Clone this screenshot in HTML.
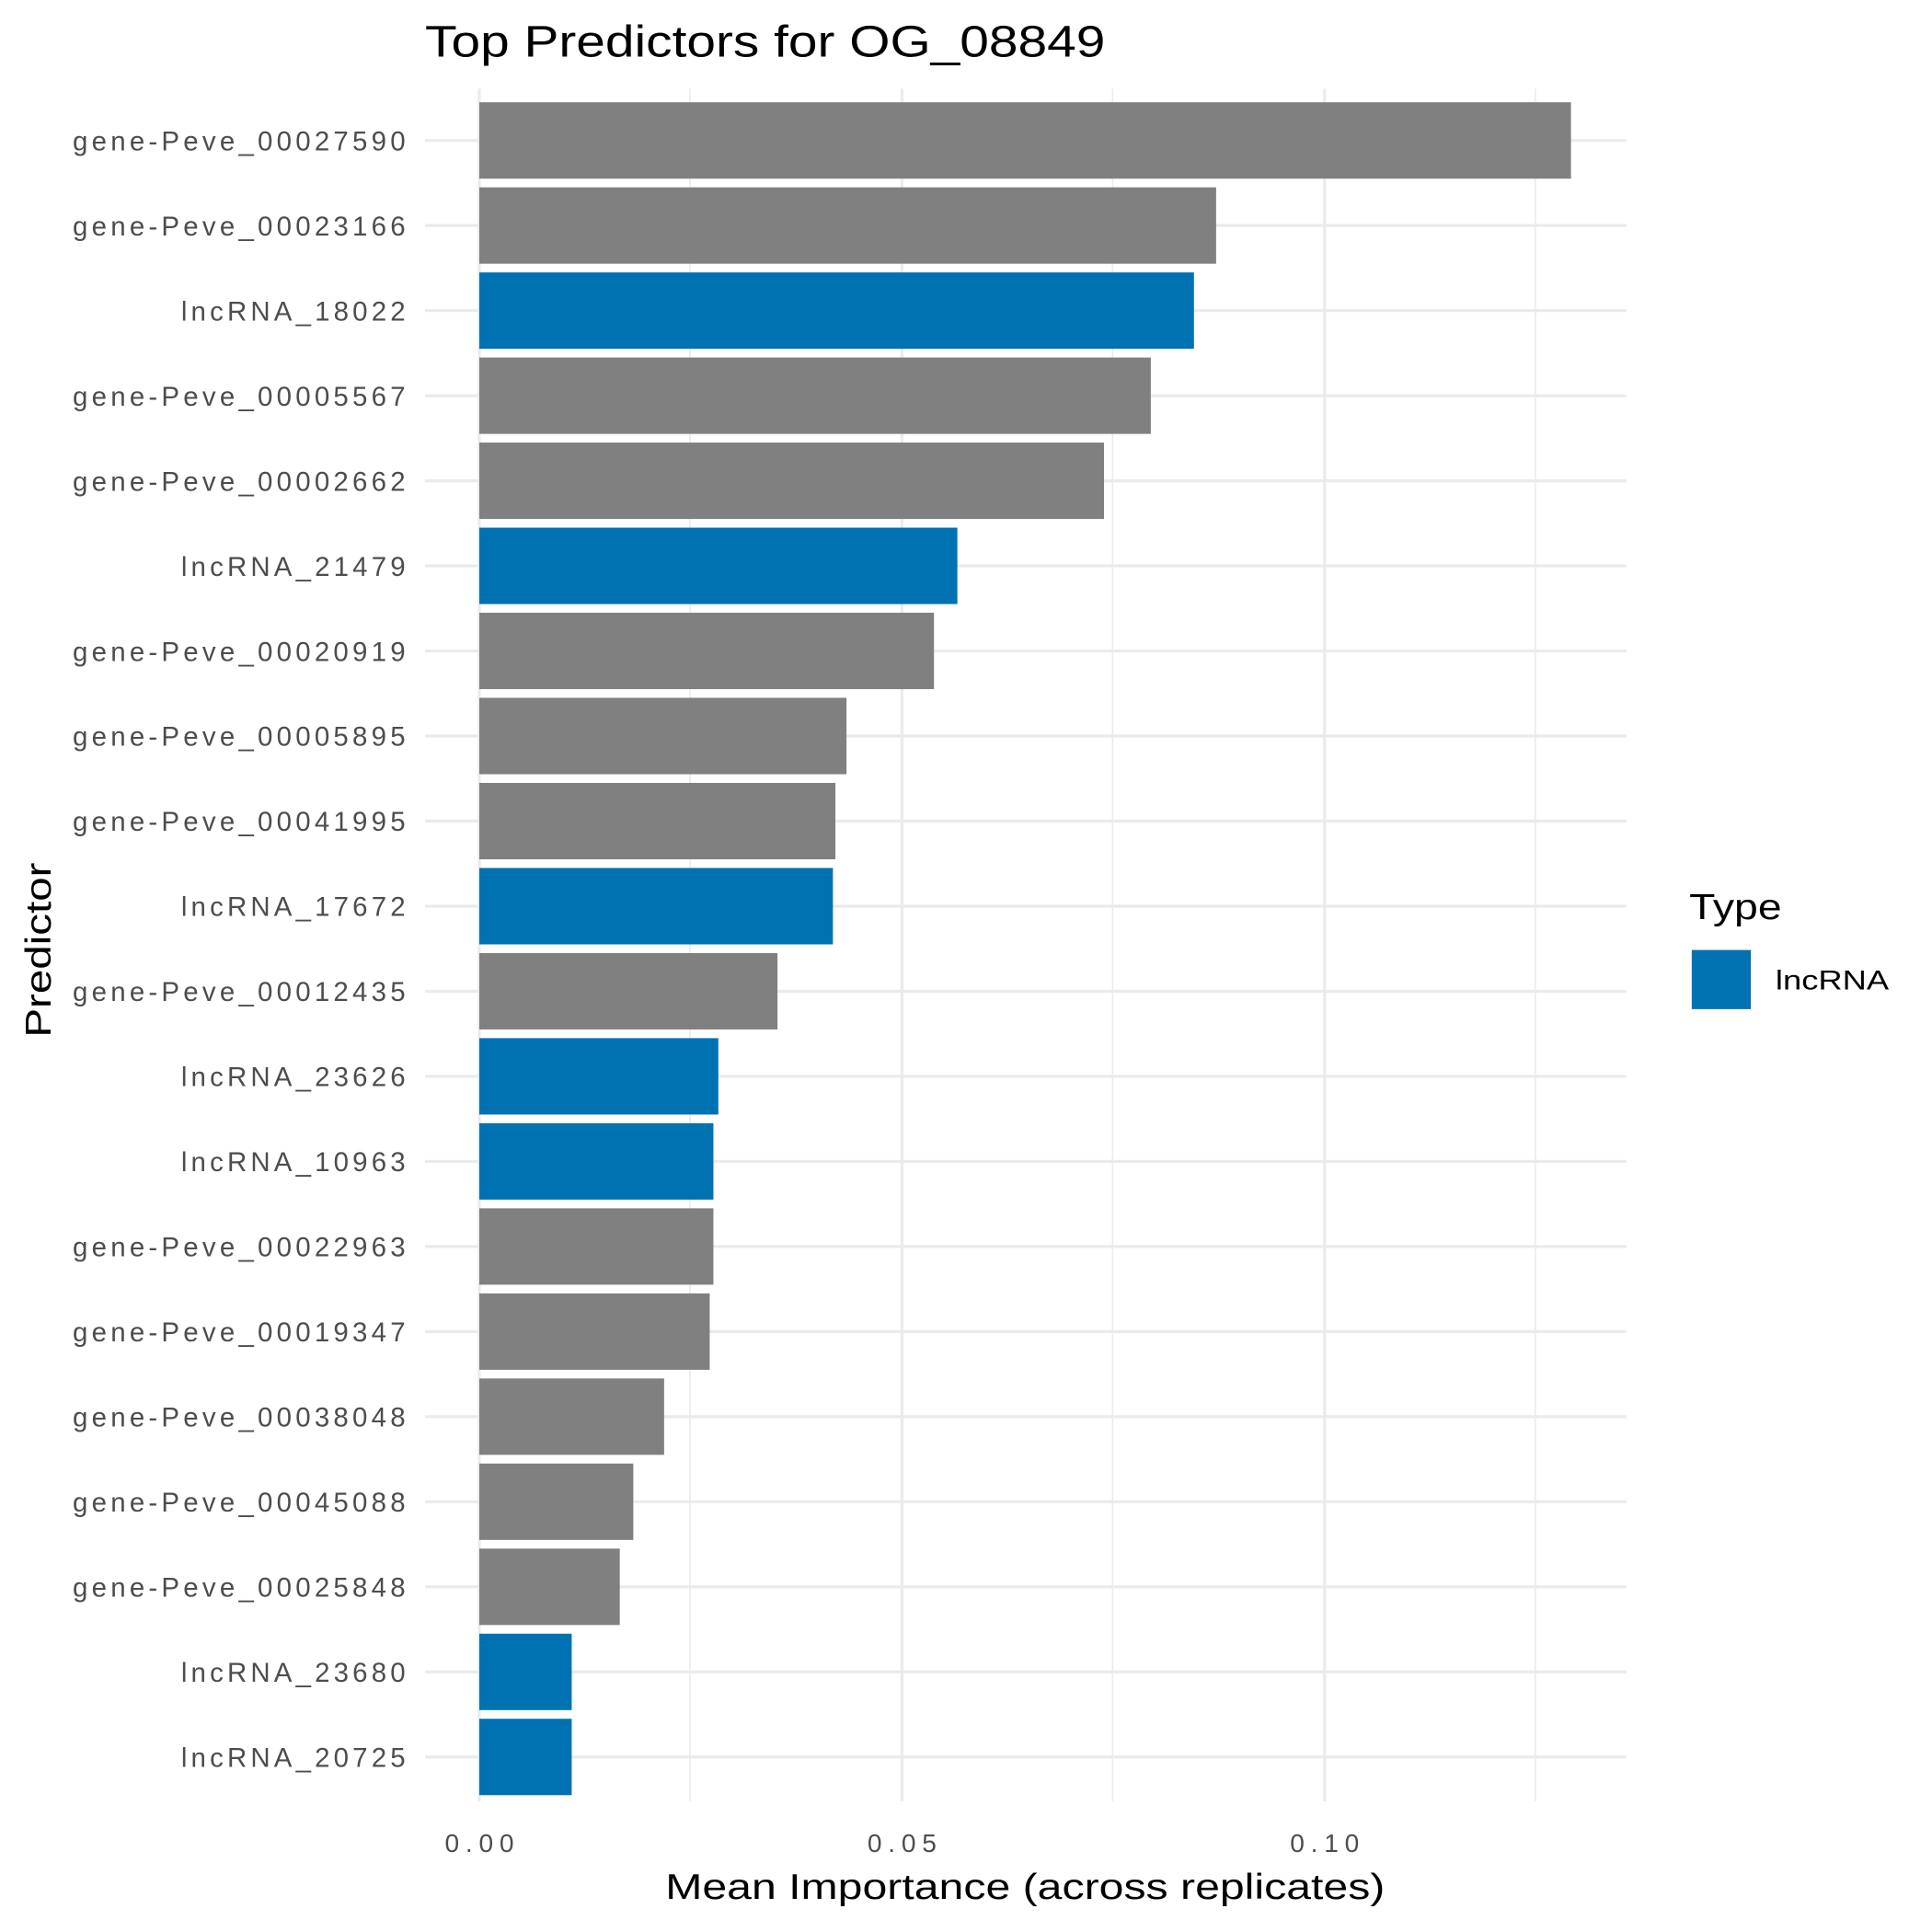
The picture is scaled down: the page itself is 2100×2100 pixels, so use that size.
<!DOCTYPE html>
<html><head><meta charset="utf-8"><style>html,body{margin:0;padding:0;background:#fff}svg{display:block}</style></head>
<body>
<svg width="2100" height="2100" viewBox="0 0 1568 1568" xmlns="http://www.w3.org/2000/svg" font-family="Liberation Sans, sans-serif">
<rect width="1568" height="1568" fill="#fff"/>
<g stroke="#ebebeb">
<line x1="560" y1="72" x2="560" y2="1462" stroke-width="1.2"/>
<line x1="903" y1="72" x2="903" y2="1462" stroke-width="1.2"/>
<line x1="1246" y1="72" x2="1246" y2="1462" stroke-width="1.2"/>
<line x1="389" y1="72" x2="389" y2="1462" stroke-width="2.4"/>
<line x1="732" y1="72" x2="732" y2="1462" stroke-width="2.4"/>
<line x1="1075" y1="72" x2="1075" y2="1462" stroke-width="2.4"/>
</g>
<g stroke="#ebebeb" stroke-width="2.4">
<line x1="345" x2="1320" y1="114" y2="114"/><line x1="345" x2="1320" y1="183.05" y2="183.05"/><line x1="345" x2="1320" y1="252.1" y2="252.1"/><line x1="345" x2="1320" y1="321.15" y2="321.15"/><line x1="345" x2="1320" y1="390.2" y2="390.2"/><line x1="345" x2="1320" y1="459.25" y2="459.25"/><line x1="345" x2="1320" y1="528.3" y2="528.3"/><line x1="345" x2="1320" y1="597.35" y2="597.35"/><line x1="345" x2="1320" y1="666.4" y2="666.4"/><line x1="345" x2="1320" y1="735.45" y2="735.45"/><line x1="345" x2="1320" y1="804.5" y2="804.5"/><line x1="345" x2="1320" y1="873.55" y2="873.55"/><line x1="345" x2="1320" y1="942.6" y2="942.6"/><line x1="345" x2="1320" y1="1011.65" y2="1011.65"/><line x1="345" x2="1320" y1="1080.7" y2="1080.7"/><line x1="345" x2="1320" y1="1149.75" y2="1149.75"/><line x1="345" x2="1320" y1="1218.8" y2="1218.8"/><line x1="345" x2="1320" y1="1287.85" y2="1287.85"/><line x1="345" x2="1320" y1="1356.9" y2="1356.9"/><line x1="345" x2="1320" y1="1425.95" y2="1425.95"/>
</g>
<g>
<rect x="389" y="83" width="886" height="62" fill="#808080"/>
<rect x="389" y="152.05" width="598" height="62" fill="#808080"/>
<rect x="389" y="221.1" width="580" height="62" fill="#0072b2"/>
<rect x="389" y="290.15" width="545" height="62" fill="#808080"/>
<rect x="389" y="359.2" width="507" height="62" fill="#808080"/>
<rect x="389" y="428.25" width="388" height="62" fill="#0072b2"/>
<rect x="389" y="497.3" width="369" height="62" fill="#808080"/>
<rect x="389" y="566.35" width="298" height="62" fill="#808080"/>
<rect x="389" y="635.4" width="289" height="62" fill="#808080"/>
<rect x="389" y="704.45" width="287" height="62" fill="#0072b2"/>
<rect x="389" y="773.5" width="242" height="62" fill="#808080"/>
<rect x="389" y="842.55" width="194" height="62" fill="#0072b2"/>
<rect x="389" y="911.6" width="190" height="62" fill="#0072b2"/>
<rect x="389" y="980.65" width="190" height="62" fill="#808080"/>
<rect x="389" y="1049.7" width="187" height="62" fill="#808080"/>
<rect x="389" y="1118.75" width="150" height="62" fill="#808080"/>
<rect x="389" y="1187.8" width="125" height="62" fill="#808080"/>
<rect x="389" y="1256.85" width="114" height="62" fill="#808080"/>
<rect x="389" y="1325.9" width="75" height="62" fill="#0072b2"/>
<rect x="389" y="1394.95" width="75" height="62" fill="#0072b2"/>
</g>
<g font-size="22" fill="#4d4d4d" text-anchor="end" lengthAdjust="spacingAndGlyphs">
<text x="329" y="122" textLength="270">gene-Peve_00027590</text>
<text x="329" y="191.05" textLength="270">gene-Peve_00023166</text>
<text x="329" y="260.1" textLength="182">lncRNA_18022</text>
<text x="329" y="329.15" textLength="270">gene-Peve_00005567</text>
<text x="329" y="398.2" textLength="270">gene-Peve_00002662</text>
<text x="329" y="467.25" textLength="182">lncRNA_21479</text>
<text x="329" y="536.3" textLength="270">gene-Peve_00020919</text>
<text x="329" y="605.35" textLength="270">gene-Peve_00005895</text>
<text x="329" y="674.4" textLength="270">gene-Peve_00041995</text>
<text x="329" y="743.45" textLength="182">lncRNA_17672</text>
<text x="329" y="812.5" textLength="270">gene-Peve_00012435</text>
<text x="329" y="881.55" textLength="182">lncRNA_23626</text>
<text x="329" y="950.6" textLength="182">lncRNA_10963</text>
<text x="329" y="1019.65" textLength="270">gene-Peve_00022963</text>
<text x="329" y="1088.7" textLength="270">gene-Peve_00019347</text>
<text x="329" y="1157.75" textLength="270">gene-Peve_00038048</text>
<text x="329" y="1226.8" textLength="270">gene-Peve_00045088</text>
<text x="329" y="1295.85" textLength="270">gene-Peve_00025848</text>
<text x="329" y="1364.9" textLength="182">lncRNA_23680</text>
<text x="329" y="1433.95" textLength="182">lncRNA_20725</text>
</g>
<text x="345" y="46" font-size="36" fill="#000" textLength="552" lengthAdjust="spacingAndGlyphs">Top Predictors for OG_08849</text>
<g font-size="21" fill="#4d4d4d" text-anchor="middle" lengthAdjust="spacingAndGlyphs">
<text x="389" y="1503" textLength="56">0.00</text><text x="732" y="1503" textLength="56">0.05</text><text x="1075" y="1503" textLength="56">0.10</text>
</g>
<text x="832" y="1541" font-size="29" text-anchor="middle" fill="#000" textLength="584" lengthAdjust="spacingAndGlyphs">Mean Importance (across replicates)</text>
<text transform="translate(41,771) rotate(-90)" font-size="29" text-anchor="middle" fill="#000" textLength="142" lengthAdjust="spacingAndGlyphs">Predictor</text>
<text x="1371" y="746" font-size="29" fill="#000" textLength="75" lengthAdjust="spacingAndGlyphs">Type</text>
<rect x="1373" y="771" width="48" height="48" fill="#0072b2"/>
<text x="1441" y="803" font-size="22" fill="#000" textLength="92" lengthAdjust="spacingAndGlyphs">lncRNA</text>
</svg>
</body></html>
